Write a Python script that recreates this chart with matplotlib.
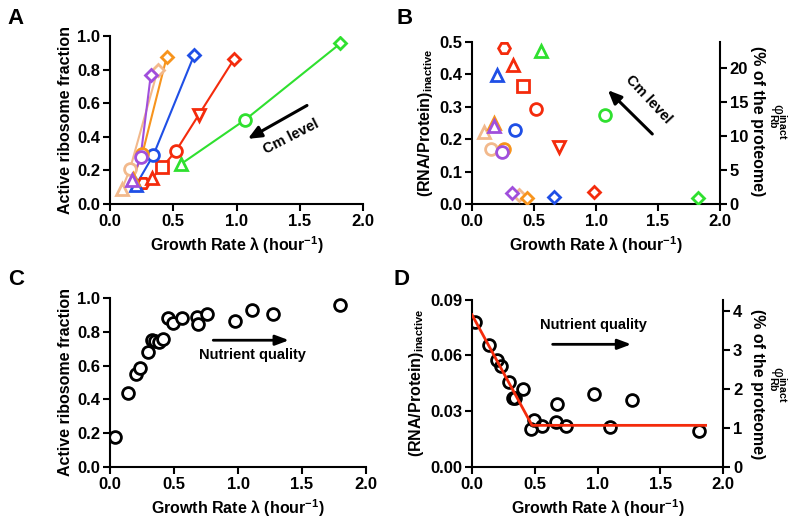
import matplotlib
matplotlib.use("Agg")
import matplotlib.pyplot as plt

plt.rcParams['font.family'] = ['Liberation Sans', 'DejaVu Sans']
plt.rcParams['font.weight'] = 'bold'
plt.rcParams['mathtext.fontset'] = 'custom'
plt.rcParams['mathtext.rm'] = 'Liberation Sans'
plt.rcParams['mathtext.bf'] = 'Liberation Sans:bold'
plt.rcParams['mathtext.it'] = 'Liberation Sans:italic'

# ---------------- data ----------------
# Panels A/B: Cm titration series (growth rate, active fraction, inactive RNA/protein)
green_lam = [0.56, 1.07, 1.82]
green_act = [0.238, 0.503, 0.956]
green_inact = [0.472, 0.273, 0.018]
green_mk = ['^', 'o', 'D']

red_lam = [0.26, 0.33, 0.41, 0.52, 0.70, 0.98]
red_act = [0.127, 0.153, 0.218, 0.315, 0.530, 0.863]
red_inact = [0.481, 0.430, 0.363, 0.294, 0.177, 0.038]
red_mk = ['H', '^', 's', 'o', 'v', 'D']

blue_lam = [0.205, 0.343, 0.665]
blue_act = [0.113, 0.292, 0.887]
blue_inact = [0.397, 0.228, 0.023]
blue_mk = ['^', 'o', 'D']

orange_lam = [0.18, 0.255, 0.447]
orange_act = [0.15, 0.298, 0.873]
orange_inact = [0.25, 0.171, 0.019]
orange_mk = ['^', 'o', 'D']

tan_lam = [0.093, 0.157, 0.377]
tan_act = [0.087, 0.206, 0.798]
tan_inact = [0.223, 0.171, 0.028]
tan_mk = ['^', 'o', 'D']

purple_lam = [0.175, 0.242, 0.322]
purple_act = [0.143, 0.282, 0.768]
purple_inact = [0.241, 0.161, 0.033]
purple_mk = ['^', 'o', 'D']

# Panel C: nutrient series
c_lam = [0.039, 0.138, 0.20, 0.234, 0.294, 0.330, 0.352, 0.385, 0.416, 0.456,
         0.49, 0.56, 0.677, 0.69, 0.755, 0.977, 1.107, 1.271, 1.797]
c_act = [0.176, 0.436, 0.55, 0.588, 0.682, 0.751, 0.746, 0.742, 0.756, 0.883,
         0.854, 0.88, 0.889, 0.846, 0.903, 0.866, 0.929, 0.903, 0.96]

# Panel D: nutrient series inactive RNA/protein
d_lam = [0.026, 0.132, 0.197, 0.231, 0.292, 0.325, 0.34, 0.406, 0.473, 0.491,
         0.558, 0.672, 0.677, 0.749, 0.975, 1.097, 1.27, 1.806]
d_inact = [0.0782, 0.0656, 0.0575, 0.0545, 0.0459, 0.037, 0.037, 0.0418, 0.0206,
           0.0251, 0.0222, 0.024, 0.0339, 0.0222, 0.0393, 0.0215, 0.036, 0.0192]
d_fit_lam = [0.0, 0.478, 1.86]
d_fit_val = [0.0819, 0.0224, 0.0224]

phi_factor = 47.6  # % of proteome per unit RNA/protein

series = [
    (green_lam, green_act, green_inact, green_mk, '#2fe02f'),
    (red_lam, red_act, red_inact, red_mk, '#f42b0c'),
    (blue_lam, blue_act, blue_inact, blue_mk, '#1f4fe6'),
    (tan_lam, tan_act, tan_inact, tan_mk, '#f2b98c'),
    (orange_lam, orange_act, orange_inact, orange_mk, '#f7941d'),
    (purple_lam, purple_act, purple_inact, purple_mk, '#a04fdc'),
]

xlabel = r'Growth Rate λ (hour$^{\mathbf{-1}}$)'
TICK = 12
LAB = 11.5

fig = plt.figure(figsize=(8.0, 5.26), dpi=100)


def style(ax):
    for s in ['top', 'right']:
        ax.spines[s].set_visible(False)
    for s in ['left', 'bottom']:
        ax.spines[s].set_linewidth(1.5)
    ax.tick_params(width=1.5, length=5, labelsize=TICK, direction='out', pad=2)
    ax.set_xlim(0, 2.0)
    ax.set_xticks([0.0, 0.5, 1.0, 1.5, 2.0])
    ax.set_xticklabels(['0.0', '0.5', '1.0', '1.5', '2.0'], fontweight='bold')
    ax.set_xlabel(xlabel, fontsize=LAB, fontweight='bold', labelpad=4)


def right_axis(ax, top):
    ax2 = ax.twinx()
    ax2.set_ylim(0, top * phi_factor)
    for s in ['top', 'left', 'bottom']:
        ax2.spines[s].set_visible(False)
    ax2.spines['right'].set_linewidth(1.5)
    ax2.tick_params(width=1.5, length=5, labelsize=TICK, pad=2)
    return ax2


def right_label(y):
    fig.text(0.947, y, '(% of the proteome)', rotation=-90, ha='center',
             va='center', fontsize=LAB, fontweight='bold')
    fig.text(0.972, y, r'φ$_{\mathrm{Rb}}^{\mathrm{inact}}$', rotation=-90,
             ha='center', va='center', fontsize=11, fontweight='normal')


mk_kw = dict(mfc='white', mew=2.0)

# ---------- Panel A ----------
axA = fig.add_axes([0.1375, 0.612, 0.3165, 0.3195])
for lam, act, inact, mks, col in series:
    axA.plot(lam, act, '-', color=col, lw=1.5, zorder=2)
    for x, y, m in zip(lam, act, mks):
        axA.plot([x], [y], m, color=col, ms=6.5 if m == 'D' else 8.5, zorder=3,
                 **mk_kw)
axA.set_ylim(0, 1.0)
axA.set_yticks([0, 0.2, 0.4, 0.6, 0.8, 1.0])
axA.set_yticklabels(['0.0', '0.2', '0.4', '0.6', '0.8', '1.0'], fontweight='bold')
style(axA)
axA.set_ylabel('Active ribosome fraction', fontsize=LAB, fontweight='bold', labelpad=3)
axA.annotate('', xy=(1.07, 0.38), xytext=(1.575, 0.595),
             arrowprops=dict(arrowstyle='-|>,head_length=0.8,head_width=0.35',
                             color='black', lw=2.2))
axA.text(1.43, 0.40, 'Cm level', rotation=27, ha='center', va='center',
         fontsize=10.5, fontweight='bold')

# ---------- Panel B ----------
axB = fig.add_axes([0.590, 0.612, 0.310, 0.3085])
for lam, act, inact, mks, col in series:
    for x, y, m in zip(lam, inact, mks):
        axB.plot([x], [y], m, color=col, ms=6.5 if m == 'D' else 8.5, zorder=3,
                 **mk_kw)
axB.set_ylim(0, 0.5)
axB.set_yticks([0, 0.1, 0.2, 0.3, 0.4, 0.5])
axB.set_yticklabels(['0.0', '0.1', '0.2', '0.3', '0.4', '0.5'], fontweight='bold')
style(axB)
axB.set_ylabel(r'(RNA/Protein)$_{\mathrm{inactive}}$', fontsize=LAB,
               fontweight='bold', labelpad=3)
axB2 = right_axis(axB, 0.5)
axB2.set_yticks([0, 5, 10, 15, 20])
axB2.set_yticklabels(['0', '5', '10', '15', '20'], fontweight='bold')
axB.annotate('', xy=(1.08, 0.357), xytext=(1.47, 0.21),
             arrowprops=dict(arrowstyle='-|>,head_length=0.8,head_width=0.35',
                             color='black', lw=2.2))
axB.text(1.42, 0.322, 'Cm level', rotation=-47, ha='center', va='center',
         fontsize=10.5, fontweight='bold')
right_label(0.77)

# ---------- Panel C ----------
axC = fig.add_axes([0.1375, 0.1122, 0.320, 0.3213])
axC.plot(c_lam, c_act, 'o', color='black', ms=8.5, **mk_kw)
axC.set_ylim(0, 1.0)
axC.set_yticks([0, 0.2, 0.4, 0.6, 0.8, 1.0])
axC.set_yticklabels(['0.0', '0.2', '0.4', '0.6', '0.8', '1.0'], fontweight='bold')
style(axC)
axC.set_ylabel('Active ribosome fraction', fontsize=LAB, fontweight='bold', labelpad=3)
axC.annotate('', xy=(1.42, 0.75), xytext=(0.785, 0.75),
             arrowprops=dict(arrowstyle='-|>,head_length=0.8,head_width=0.3',
                             color='black', lw=2.0))
axC.text(1.11, 0.66, 'Nutrient quality', ha='center', va='center',
         fontsize=10.5, fontweight='bold')

# ---------- Panel D ----------
axD = fig.add_axes([0.590, 0.1122, 0.314, 0.318])
axD.plot(d_fit_lam, d_fit_val, '-', color='#f42b0c', lw=2.0, zorder=3)
axD.plot(d_lam, d_inact, 'o', color='black', ms=8.5, mfc='none', mew=2.0, zorder=2)
axD.set_ylim(0, 0.09)
axD.set_yticks([0, 0.03, 0.06, 0.09])
axD.set_yticklabels(['0.00', '0.03', '0.06', '0.09'], fontweight='bold')
style(axD)
axD.set_ylabel(r'(RNA/Protein)$_{\mathrm{inactive}}$', fontsize=LAB,
               fontweight='bold', labelpad=3)
axD2 = right_axis(axD, 0.09)
axD2.set_yticks([0, 1, 2, 3, 4])
axD2.set_yticklabels(['0', '1', '2', '3', '4'], fontweight='bold')
axD.annotate('', xy=(1.29, 0.066), xytext=(0.62, 0.066),
             arrowprops=dict(arrowstyle='-|>,head_length=0.8,head_width=0.3',
                             color='black', lw=2.0))
axD.text(0.97, 0.0765, 'Nutrient quality', ha='center', va='center',
         fontsize=10.5, fontweight='bold')
right_label(0.27)

# Panel letters
for lt, x, y in [('A', 0.02, 0.965), ('B', 0.506, 0.965),
                 ('C', 0.02, 0.468), ('D', 0.502, 0.468)]:
    fig.text(x, y, lt, fontsize=16, fontweight='bold', ha='center', va='center')

fig.savefig('out.png', dpi=100)
